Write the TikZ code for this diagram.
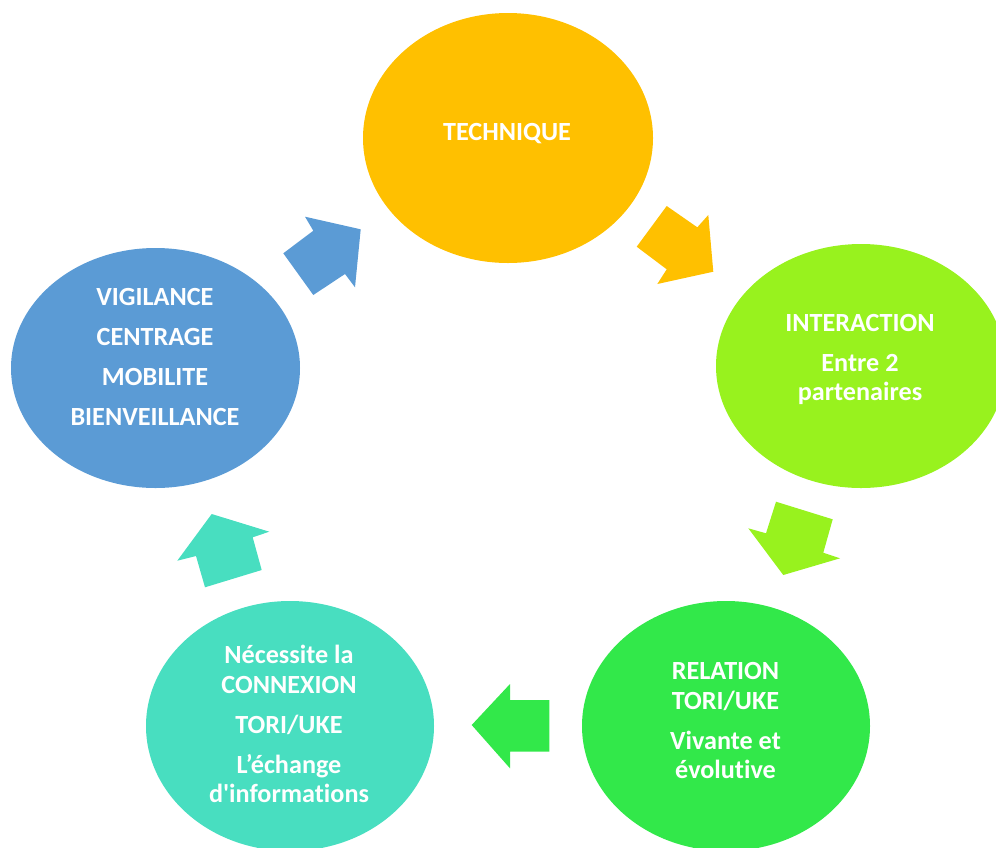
\documentclass[tikz,border=0pt]{standalone}
\usepackage{fontspec}
\setmainfont{Carlito}[Ligatures={TeX,NoCommon}]
\usetikzlibrary{shapes.geometric}
\definecolor{techgold}{HTML}{FFC000}
\definecolor{interlime}{HTML}{98F21E}
\definecolor{relgreen}{HTML}{32E84A}
\definecolor{connteal}{HTML}{48DEC0}
\definecolor{vigblue}{HTML}{5B9BD5}
% keeps "t" and "i" as separate glyphs
\newcommand{\tisep}{t\kern0pt i}
\begin{document}
\begin{tikzpicture}[x=1pt,y=-1pt,
  blob/.style={ellipse, inner sep=0pt, draw=none},
  lbl/.style={text=white, align=center, inner sep=0pt,
    font=\bfseries\fontsize{26.2}{29.5}\selectfont}]
\useasboundingbox (0,0) rectangle (996,847);
\clip (0,0) rectangle (996,847);

% the five stages of the cycle
\node[blob, fill=techgold,  minimum width=290pt, minimum height=250pt] (tech)  at (508,138) {};
\node[blob, fill=interlime, minimum width=290pt, minimum height=244pt] (inter) at (861,366) {};
\node[blob, fill=relgreen,  minimum width=288pt, minimum height=250pt] (rel)   at (726,726) {};
\node[blob, fill=connteal,  minimum width=288pt, minimum height=250pt] (conn)  at (290,726) {};
\node[blob, fill=vigblue,   minimum width=289pt, minimum height=240pt] (vig)   at (155.5,368) {};

\node[lbl] (tech-t)  at (507,134) {TECHNIQUE};
\node[lbl] (inter-t) at (860,359.6) {INTERACTION\\[10.5pt]Entre 2\\partenaires};
\node[lbl] (rel-t)   at (725.5,720.5) {RELATION\\TORI/UKE\\[10.5pt]Vivante et\\évolu\tisep ve};
\node[lbl] (conn-t)  at (289,724) {Nécessite la\\CONNEXION\\[10.5pt]TORI/UKE\\[10.5pt]L’échange\\d\textquotesingle informa\tisep ons};
\node[lbl] (vig-t)   at (155,357) {VIGILANCE\\[10.5pt]CENTRAGE\\[10.5pt]MOBILITE\\[10.5pt]BIENVEILLANCE};

% block arrows between the stages
\fill[vigblue] (360.7,229.3) -- (355,287.3) -- (345,274) -- (313.3,295)
  -- (283.3,253.3) -- (313.3,230.7) -- (305,216.7) -- cycle;
\fill[techgold] (666.7,206) -- (697.3,227.3) -- (708.3,215) -- (713.3,271.7)
  -- (657.3,284) -- (666.7,269.3) -- (636.7,246.7) -- cycle;
\fill[interlime] (776,501.7) -- (832.7,519.3) -- (823.3,552.7) -- (840,558.3)
  -- (783.3,575) -- (748.3,528.3) -- (766,533.3) -- cycle;
\fill[relgreen] (549.3,700) -- (549.3,751.7) -- (510,751.7) -- (510,768.3)
  -- (471.7,725) -- (510,684) -- (510,700) -- cycle;
\fill[connteal] (211.7,514) -- (269.3,531.7) -- (252.7,537.3) -- (261.7,570)
  -- (205,587.3) -- (196,556) -- (177.3,560.7) -- cycle;
\end{tikzpicture}
\end{document}
